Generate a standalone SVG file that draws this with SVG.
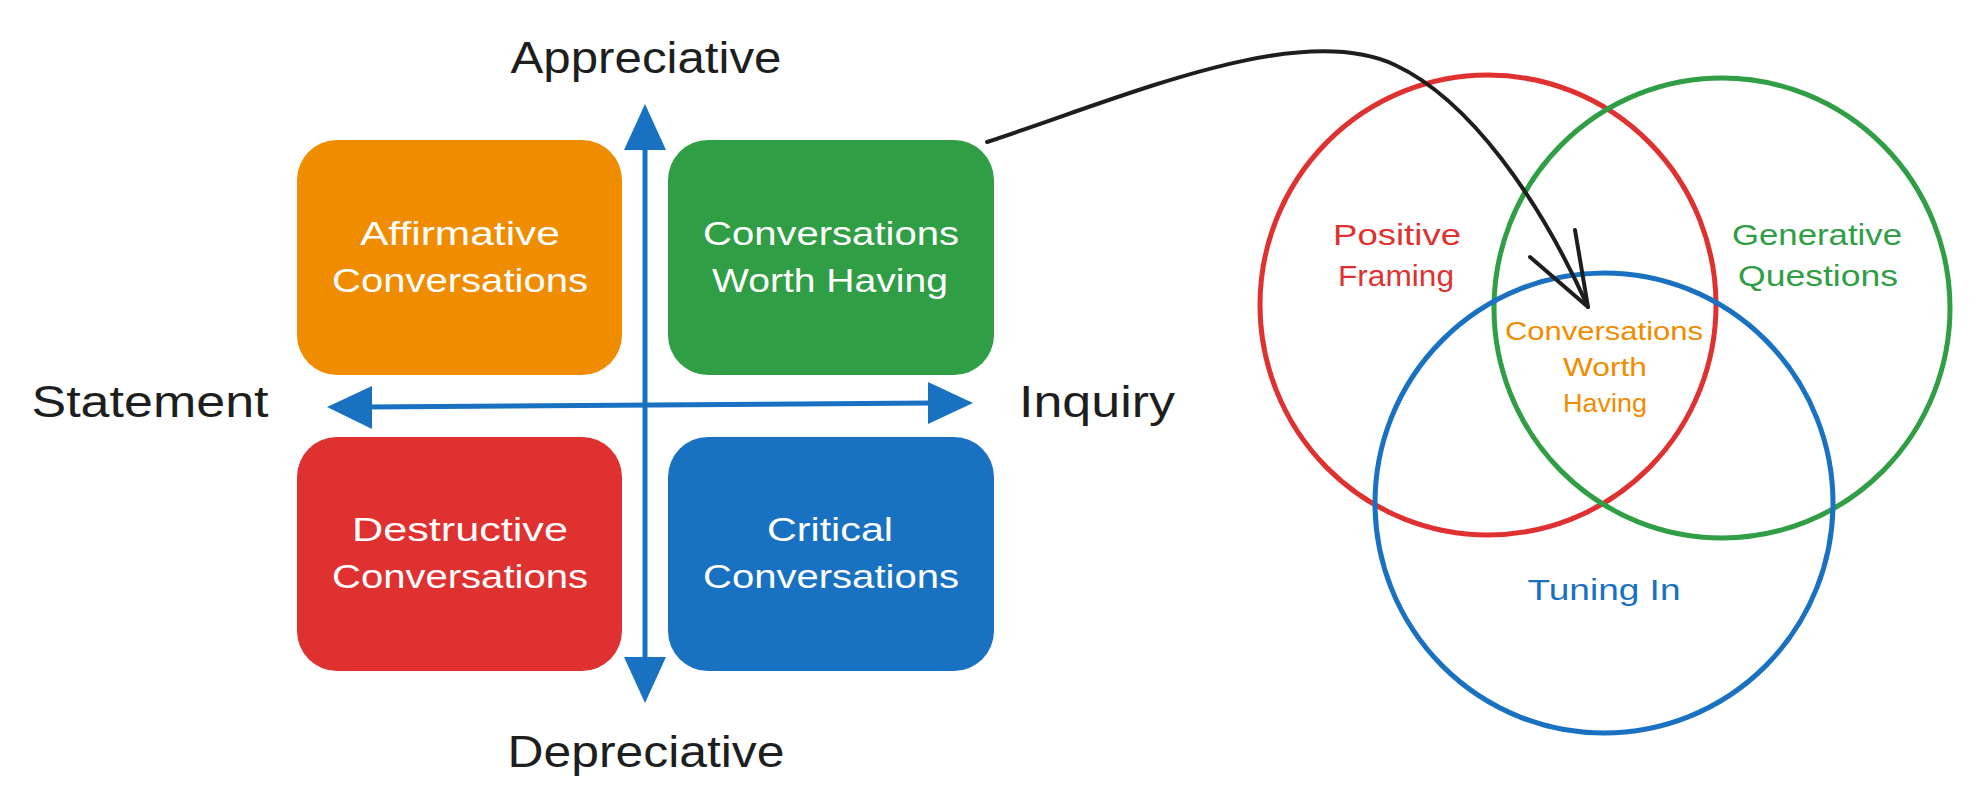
<svg xmlns="http://www.w3.org/2000/svg" width="1976" height="812" viewBox="0 0 1976 812">
<style>
text{font-family:"Liberation Sans","DejaVu Sans",sans-serif;text-anchor:middle}
.ax{font-size:44px;fill:#1e1e1e}
.bx{font-size:34px;fill:#ffffff}
.vn{font-size:29px}
.vs{font-size:25px;fill:#f08c00}
.circ{fill:none;stroke-width:5}
</style>
<rect width="1976" height="812" fill="#ffffff"/>
<g id="axes">
<line x1="645" y1="145" x2="645" y2="662" stroke="#1971c2" stroke-width="5"/>
<polygon points="645,104 624,150 666,150" fill="#1971c2"/>
<polygon points="645,703 624,657 666,657" fill="#1971c2"/>
<line x1="367" y1="407" x2="933" y2="403" stroke="#1971c2" stroke-width="5"/>
<polygon points="327,407 372,386 372,429" fill="#1971c2"/>
<polygon points="973,403 928,382 928,424" fill="#1971c2"/>
</g>
<g id="label-appreciative"><text class="ax" x="646" y="73" textLength="271" lengthAdjust="spacingAndGlyphs">Appreciative</text></g>
<g id="label-depreciative"><text class="ax" x="646" y="767" textLength="277" lengthAdjust="spacingAndGlyphs">Depreciative</text></g>
<g id="label-statement"><text class="ax" x="150" y="417" textLength="237" lengthAdjust="spacingAndGlyphs">Statement</text></g>
<g id="label-inquiry"><text class="ax" x="1097" y="417" textLength="156" lengthAdjust="spacingAndGlyphs">Inquiry</text></g>
<g id="affirmative">
<rect x="297" y="140" width="325" height="235" rx="40" fill="#f08c00"/>
<text class="bx" x="460" y="245" textLength="200" lengthAdjust="spacingAndGlyphs">Affirmative</text>
<text class="bx" x="460" y="292" textLength="256" lengthAdjust="spacingAndGlyphs">Conversations</text>
</g>
<g id="worth-having">
<rect x="668" y="140" width="326" height="235" rx="40" fill="#2f9e44"/>
<text class="bx" x="831" y="245" textLength="256" lengthAdjust="spacingAndGlyphs">Conversations</text>
<text class="bx" x="830" y="292" textLength="236" lengthAdjust="spacingAndGlyphs">Worth Having</text>
</g>
<g id="destructive">
<rect x="297" y="437" width="325" height="234" rx="40" fill="#e03131"/>
<text class="bx" x="460" y="541" textLength="216" lengthAdjust="spacingAndGlyphs">Destructive</text>
<text class="bx" x="460" y="588" textLength="256" lengthAdjust="spacingAndGlyphs">Conversations</text>
</g>
<g id="critical">
<rect x="668" y="437" width="326" height="234" rx="40" fill="#1971c2"/>
<text class="bx" x="830" y="541" textLength="126" lengthAdjust="spacingAndGlyphs">Critical</text>
<text class="bx" x="831" y="588" textLength="256" lengthAdjust="spacingAndGlyphs">Conversations</text>
</g>
<g id="positive-framing">
<ellipse class="circ" cx="1488" cy="305" rx="228" ry="230" stroke="#e03131"/>
<text class="vn" x="1397" y="245" fill="#e03131" textLength="128" lengthAdjust="spacingAndGlyphs">Positive</text>
<text class="vn" x="1396" y="286" fill="#e03131" textLength="116" lengthAdjust="spacingAndGlyphs">Framing</text>
</g>
<g id="generative-questions">
<ellipse class="circ" cx="1722" cy="308" rx="228" ry="230" stroke="#2f9e44"/>
<text class="vn" x="1817" y="245" fill="#2f9e44" textLength="170" lengthAdjust="spacingAndGlyphs">Generative</text>
<text class="vn" x="1818" y="286" fill="#2f9e44" textLength="160" lengthAdjust="spacingAndGlyphs">Questions</text>
</g>
<g id="tuning-in">
<ellipse class="circ" cx="1604" cy="503" rx="229" ry="230" stroke="#1971c2" stroke-width="6"/>
<text class="vn" x="1604" y="600" fill="#1971c2" textLength="153" lengthAdjust="spacingAndGlyphs">Tuning In</text>
</g>
<g id="intersection">
<text class="vs" x="1604" y="340" textLength="198" lengthAdjust="spacingAndGlyphs">Conversations</text>
<text class="vs" x="1605" y="376" textLength="84" lengthAdjust="spacingAndGlyphs">Worth</text>
<text class="vs" x="1605" y="412" textLength="84" lengthAdjust="spacingAndGlyphs">Having</text>
</g>
<g id="connectors" fill="none" stroke="#1e1e1e" stroke-width="4" stroke-linecap="round" stroke-linejoin="round">
<path d="M987,142 C1130,95 1300,20 1395,65 C1470,100 1540,200 1588,307"/>
<path d="M1575,230 L1588,307 L1530,257"/>
</g>
</svg>
